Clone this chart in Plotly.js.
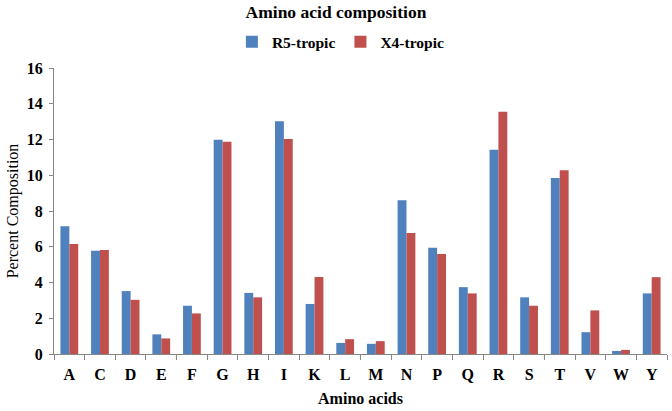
<!DOCTYPE html>
<html>
<head>
<meta charset="utf-8">
<script src="https://cdn.plot.ly/plotly-3.0.1.min.js"></script>
<style>
  html, body { margin: 0; padding: 0; background: #fff; }
  #chart { width: 672px; height: 411px; }
</style>
</head>
<body>
<div id="chart"></div>
<script>
// amino acid letters on the x axis
const aminoAcids = ["A", "C", "D", "E", "F", "G", "H", "I", "K", "L",
  "M", "N", "P", "Q", "R", "S", "T", "V", "W", "Y"];

// percent composition
const r5Tropic = [7.15, 5.77, 3.52, 1.1, 2.7, 11.98, 3.42, 13.02, 2.8, 0.62,
  0.57, 8.6, 5.94, 3.74, 11.43, 3.17, 9.85, 1.22, 0.17, 3.39];
const x4Tropic = [6.15, 5.82, 3.03, 0.87, 2.27, 11.87, 3.17, 12.03, 4.31, 0.83,
  0.72, 6.77, 5.59, 3.39, 13.55, 2.7, 10.28, 2.44, 0.23, 4.3];

const yTicks = [0, 2, 4, 6, 8, 10, 12, 14, 16];

const serif = "'Liberation Serif', 'Times New Roman', serif";
const boldFont = size => ({ family: serif, size: size, color: "#000", weight: "bold" });

const data = [
  {
    x: aminoAcids,
    y: r5Tropic,
    type: "bar",
    name: "R5-tropic",
    marker: { color: "#4F81BD" }
  },
  {
    x: aminoAcids,
    y: x4Tropic,
    type: "bar",
    name: "X4-tropic",
    marker: { color: "#C0504D" }
  }
];

const layout = {
  width: 672,
  height: 411,
  margin: { l: 54, r: 5, t: 68, b: 57 },
  paper_bgcolor: "#fff",
  plot_bgcolor: "#fff",
  barmode: "group",
  bargap: 0.42,
  bargroupgap: 0,
  title: {
    text: "Amino acid composition",
    font: boldFont(17.5),
    x: 0.5,
    xref: "container",
    xanchor: "center",
    y: 0.985,
    yref: "container"
  },
  showlegend: true,
  legend: {
    orientation: "h",
    x: 0.468,
    xanchor: "center",
    y: 1.09,
    yanchor: "middle",
    font: boldFont(15.5),
    itemwidth: 30,
    traceorder: "normal"
  },
  xaxis: {
    type: "category",
    tickfont: boldFont(16),
    ticks: "outside",
    tickson: "boundaries",
    ticklen: 5,
    ticklabelstandoff: 6,
    tickcolor: "#868686",
    showline: true,
    linecolor: "#868686",
    linewidth: 1,
    showgrid: false,
    zeroline: false,
    title: { text: "Amino acids", font: boldFont(16), standoff: 10 }
  },
  yaxis: {
    range: [0, 16],
    tickvals: yTicks,
    tickfont: boldFont(16),
    ticks: "outside",
    ticklen: 4,
    ticklabelstandoff: 3,
    tickcolor: "#868686",
    showline: true,
    linecolor: "#868686",
    linewidth: 1,
    showgrid: false,
    zeroline: false,
    title: { text: "Percent Composition", font: { family: serif, size: 16, color: "#000" }, standoff: 4 }
  }
};

Plotly.newPlot("chart", data, layout, { displayModeBar: false, staticPlot: true });
</script>
</body>
</html>
